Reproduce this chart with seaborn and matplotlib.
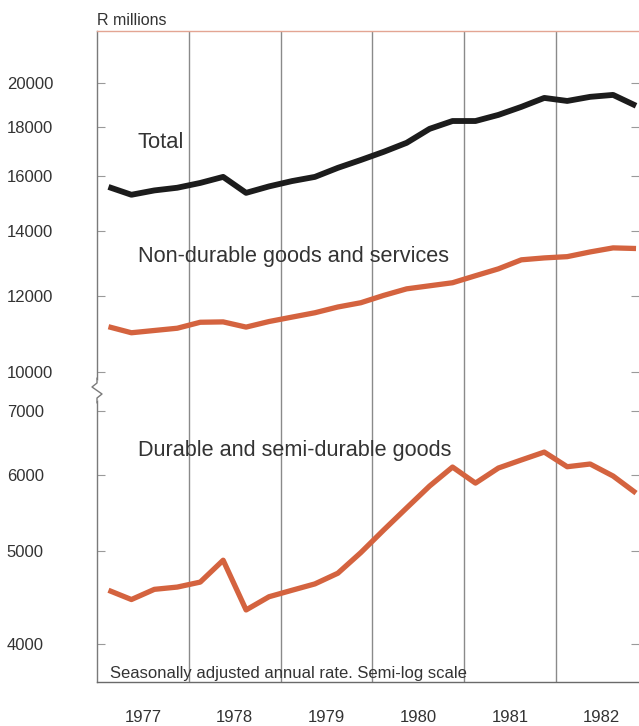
import numpy as np
import pandas as pd
import matplotlib
matplotlib.use("Agg")
import matplotlib.pyplot as plt
from matplotlib.lines import Line2D
from matplotlib.ticker import FixedLocator, NullLocator
import seaborn as sns

# ---------------- data (quarterly, R millions, seasonally adjusted annual rate)
years = [1977, 1978, 1979, 1980, 1981, 1982]
quarters = [1, 2, 3, 4]

total = [15580, 15290, 15450, 15550, 15730, 15960, 15360, 15600,
         15800, 15960, 16310, 16620, 16950, 17320, 17910, 18250,
         18250, 18520, 18880, 19290, 19150, 19340, 19430, 18930]
non_durable = [11140, 10980, 11040, 11100, 11260, 11270, 11130, 11280,
               11400, 11520, 11680, 11800, 12010, 12200, 12290, 12380,
               12590, 12800, 13080, 13140, 13180, 13330, 13460, 13440]
durable = [4550, 4450, 4560, 4585, 4640, 4890, 4340, 4480,
           4550, 4620, 4740, 4980, 5258, 5544, 5843, 6115,
           5884, 6101, 6220, 6339, 6120, 6160, 5985, 5745]

ytick_values = [4000, 5000, 6000, 7000, 10000, 12000, 14000, 16000, 18000, 20000]
ytick_labels = [str(v) for v in ytick_values]
year_labels = [str(y) for y in years]

series_labels = ["Total", "Non-durable goods and services", "Durable and semi-durable goods"]
unit_label = "R millions"
note_label = "Seasonally adjusted annual rate. Semi-log scale"

# ---------------- long-form table
dates = [y + (q - 0.5) / 4 for y in years for q in quarters]
df = pd.DataFrame({
    "date": dates * 3,
    "value": total + non_durable + durable,
    "series": ["total"] * 24 + ["nondurable"] * 24 + ["durable"] * 24,
})

# ---------------- style
sns.set_theme(style="white")
plt.rcParams["font.family"] = ["Liberation Sans", "DejaVu Sans"]
TEXT = "#333333"
ORANGE = "#d4633f"
BLACK = "#1c1c1c"

W, H = 639, 726
fig = plt.figure(figsize=(W / 100, H / 100), dpi=100)
left_px, right_px, top_px, bot_px = 97, 639, 31, 682
ax = fig.add_axes([left_px / W, 1 - bot_px / H, (right_px - left_px) / W, (bot_px - top_px) / H])

# broken semi-log scale: gap between LOW_TOP and HIGH_BOTTOM removed
LOW_TOP = 7415.0
HIGH_BOTTOM = 9646.0
L = np.log(LOW_TOP)
GAP = np.log(HIGH_BOTTOM) - L


def fwd(v):
    lv = np.log(np.clip(np.asarray(v, dtype=float), 1e-9, None))
    return np.where(lv <= L, lv, np.where(lv >= L + GAP, lv - GAP, L + (lv - L) * 1e-3))


def inv(y):
    y = np.asarray(y, dtype=float)
    return np.exp(np.where(y <= L, y, y + GAP))


ax.set_yscale("function", functions=(fwd, inv))

sns.lineplot(data=df[df.series == "total"], x="date", y="value", ax=ax,
             color=BLACK, linewidth=4.2, legend=False, solid_joinstyle="round",
             solid_capstyle="butt")
sns.lineplot(data=df[df.series == "nondurable"], x="date", y="value", ax=ax,
             color=ORANGE, linewidth=3.8, legend=False, solid_joinstyle="round",
             solid_capstyle="butt")
sns.lineplot(data=df[df.series == "durable"], x="date", y="value", ax=ax,
             color=ORANGE, linewidth=3.8, legend=False, solid_joinstyle="round",
             solid_capstyle="butt")

ax.set_xlim(1977, 1977 + (right_px - left_px) / 91.75)
ax.set_ylim(3651, 22650)
ax.set_xlabel("")
ax.set_ylabel("")

# y ticks
ax.yaxis.set_major_locator(FixedLocator(ytick_values))
ax.yaxis.set_minor_locator(NullLocator())
ax.set_yticks(ytick_values)
ax.set_yticklabels(ytick_labels)
ax.tick_params(axis="y", which="major", direction="in", left=True, right=True,
               length=6, width=0.8, color="#9a9a9a", labelsize=12,
               labelcolor=TEXT, pad=65)
for lab in ax.get_yticklabels():
    lab.set_horizontalalignment("left")

# x: gridlines at year boundaries, labels at mid-year
ax.set_xticks(years[1:])
ax.set_xticklabels([])
ax.set_xticks([y + 0.5 for y in years], minor=True)
ax.set_xticklabels(year_labels, minor=True)
ax.tick_params(axis="x", which="both", length=0, labelsize=12, labelcolor=TEXT)
ax.tick_params(axis="x", which="minor", pad=20)
ax.xaxis.grid(True, which="major", color="#8a8a8a", linewidth=1.0)
ax.yaxis.grid(False)

# spines
ax.spines["right"].set_visible(False)
ax.spines["top"].set_color("#e3a593")
ax.spines["top"].set_linewidth(1.0)
ax.spines["left"].set_color("#7a7a7a")
ax.spines["left"].set_linewidth(1.0)
ax.spines["bottom"].set_color("#6a6a6a")
ax.spines["bottom"].set_linewidth(1.0)

# series labels
x_lab = 1977 + (138 - left_px) / 91.75
ax.text(x_lab, 17120, series_labels[0], fontsize=15.8, color=TEXT, va="baseline", ha="left")
ax.text(x_lab, 13020, series_labels[1], fontsize=15.6, color=TEXT, va="baseline", ha="left")
ax.text(x_lab, 6280, series_labels[2], fontsize=15.6, color=TEXT, va="baseline", ha="left")
ax.text(1977 + (110 - left_px) / 91.75, 3690, note_label, fontsize=12, color=TEXT,
        va="baseline", ha="left")

fig.text(left_px / W, 1 - 25 / H, unit_label, fontsize=11.5, color=TEXT,
         va="baseline", ha="left")

# axis break mark on the left spine
bx = np.array([97, 97, 92, 102, 97, 97])
by = np.array([378, 383, 387, 394, 398, 403])
fig.add_artist(Line2D([left_px / W - 0.0004] * 2, [1 - 382 / H, 1 - 399 / H],
                      transform=fig.transFigure, color="white", linewidth=3))
fig.add_artist(Line2D(bx / W, 1 - by / H, transform=fig.transFigure,
                      color="#7a7a7a", linewidth=1.0))

fig.savefig("out.png", dpi=100, facecolor="white")
